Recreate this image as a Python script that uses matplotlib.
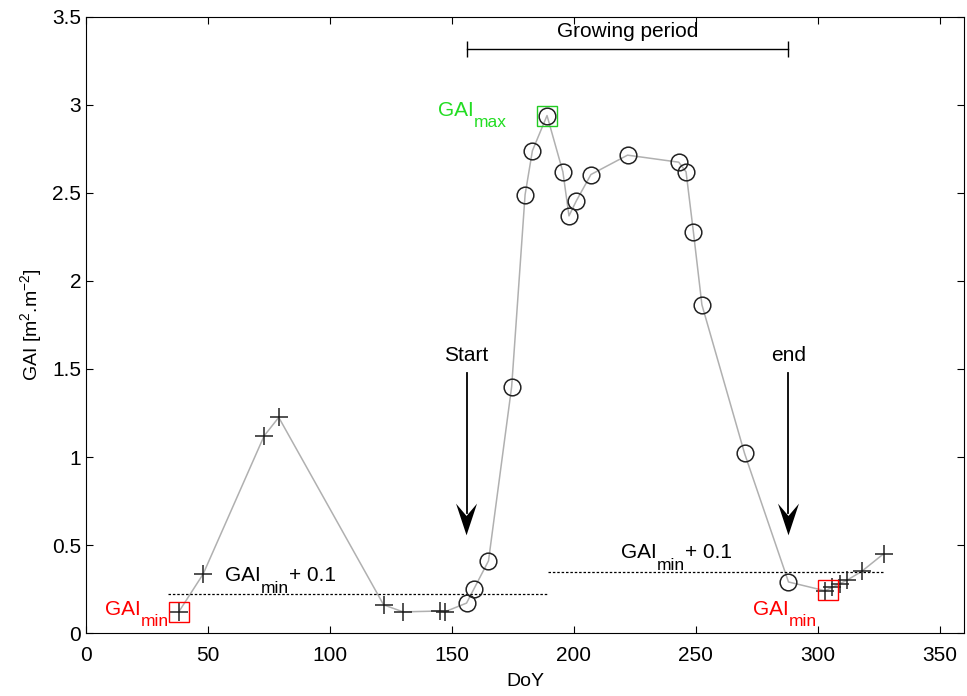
import matplotlib.pyplot as plt
from matplotlib.patches import Polygon

plt.rcParams['font.family'] = ['Liberation Sans', 'DejaVu Sans']
plt.rcParams['mathtext.fontset'] = 'custom'
plt.rcParams['mathtext.rm'] = 'Liberation Sans'
plt.rcParams['mathtext.it'] = 'Liberation Sans'

# outside growing season (crosses)
doy_pre = [38, 48, 73, 79, 122, 130, 145, 147]
gai_pre = [0.12, 0.335, 1.12, 1.225, 0.16, 0.12, 0.125, 0.12]
# growing season (circles)
doy_grow = [156, 159, 165, 174.5, 180, 183, 189, 195.5, 198, 201, 207, 222,
            243, 246, 249, 252.5, 270, 288]
gai_grow = [0.17, 0.25, 0.41, 1.40, 2.49, 2.74, 2.94, 2.62, 2.37, 2.455, 2.605, 2.715,
            2.675, 2.62, 2.28, 1.865, 1.02, 0.29]
doy_post = [303, 306, 309, 312, 318, 327]
gai_post = [0.24, 0.26, 0.28, 0.30, 0.35, 0.45]

gai_min1 = (38, 0.12)
gai_min2 = (304, 0.245)
gai_max = (189, 2.94)
thr1 = 0.22
thr2 = 0.347
start_doy = 156
end_doy = 288

fig, ax = plt.subplots(figsize=(9.67, 6.96), dpi=100)
fig.subplots_adjust(left=0.089, right=0.997, bottom=0.0905, top=0.9756)

doy_all = doy_pre + doy_grow + doy_post
gai_all = gai_pre + gai_grow + gai_post
ax.plot(doy_all, gai_all, color='#b0b0b0', lw=1.1, zorder=1)
ax.plot(doy_pre + doy_post, gai_pre + gai_post, ls='none', marker='+', ms=13,
        mew=1.1, color='#222222', zorder=3)
ax.plot(doy_grow, gai_grow, ls='none', marker='o', ms=12, mfc='none',
        mew=1.1, mec='#222222', zorder=3)

# min / max boxes
for p in (gai_min1, gai_min2):
    ax.plot(*p, marker='s', ms=15, mfc='none', mec='red', mew=1, zorder=4)
ax.plot(*gai_max, marker='s', ms=15, mfc='none', mec='#22cc22', mew=1, zorder=4)

# thresholds
ax.plot([33.5, 189], [thr1, thr1], ls=(0, (2, 1.5)), color='k', lw=0.9)
ax.plot([189.5, 327], [thr2, thr2], ls=(0, (2, 1.5)), color='k', lw=0.9)

fig.canvas.draw()
renderer = fig.canvas.get_renderer()


def gai_label(x, y, sub, tail='', color='k', align='left'):
    # "GAI" with a matlab-like subscript, then optional tail text
    parts = [('GAI', 15, 0), (sub, 12.5, -9)]
    if tail:
        parts.append((tail, 15, 0))
    texts = []
    for s, fs, dy in parts:
        t = ax.annotate(s, (x, y), xytext=(0, dy), textcoords='offset points',
                        fontsize=fs, color=color, va='center', ha='left')
        texts.append(t)
    widths = [t.get_window_extent(renderer).width for t in texts]
    total = sum(widths)
    start = -total if align == 'right' else 0
    off = start
    for t, w, (s, fs, dy) in zip(texts, widths, parts):
        t.xyann = (off * 72 / fig.dpi, dy)
        off += w


gai_label(57, 0.325, 'min', '+ 0.1')
gai_label(219.5, 0.455, 'min', '+ 0.1')
gai_label(34, 0.135, 'min', color='red', align='right')
gai_label(273.5, 0.135, 'min', color='red')
gai_label(172.5, 2.97, 'max', color='#22dd22', align='right')

# start / end arrows
for x, lbl in ((start_doy, 'Start'), (end_doy, 'end')):
    ax.plot([x, x], [0.68, 1.48], color='k', lw=1.3)
    head = Polygon([(x, 0.555), (x - 4.3, 0.735), (x, 0.665), (x + 4.3, 0.735)],
                   closed=True, color='k', lw=0)
    ax.add_patch(head)
    ax.text(x, 1.52, lbl, fontsize=15, ha='center', va='bottom')

# growing period bar
ax.plot([start_doy, end_doy], [3.32, 3.32], color='k', lw=1, marker='|', ms=11, mew=1)
ax.text((start_doy + end_doy) / 2, 3.415, 'Growing period', fontsize=15, ha='center', va='center')

ax.set_xlim(0, 360)
ax.set_ylim(0, 3.5)
ax.set_xticks(range(0, 351, 50))
ax.set_yticks([0, 0.5, 1, 1.5, 2, 2.5, 3, 3.5])
ax.set_yticklabels(['0', '0.5', '1', '1.5', '2', '2.5', '3', '3.5'])
ax.tick_params(direction='in', top=True, right=True, length=5, labelsize=15)
ax.tick_params(axis='x', pad=9)
ax.set_xlabel('DoY', fontsize=14, labelpad=6)
ax.set_ylabel(r'GAI [m$^2$.m$^{-2}$]', fontsize=14, labelpad=6)

fig.savefig('out.png')
